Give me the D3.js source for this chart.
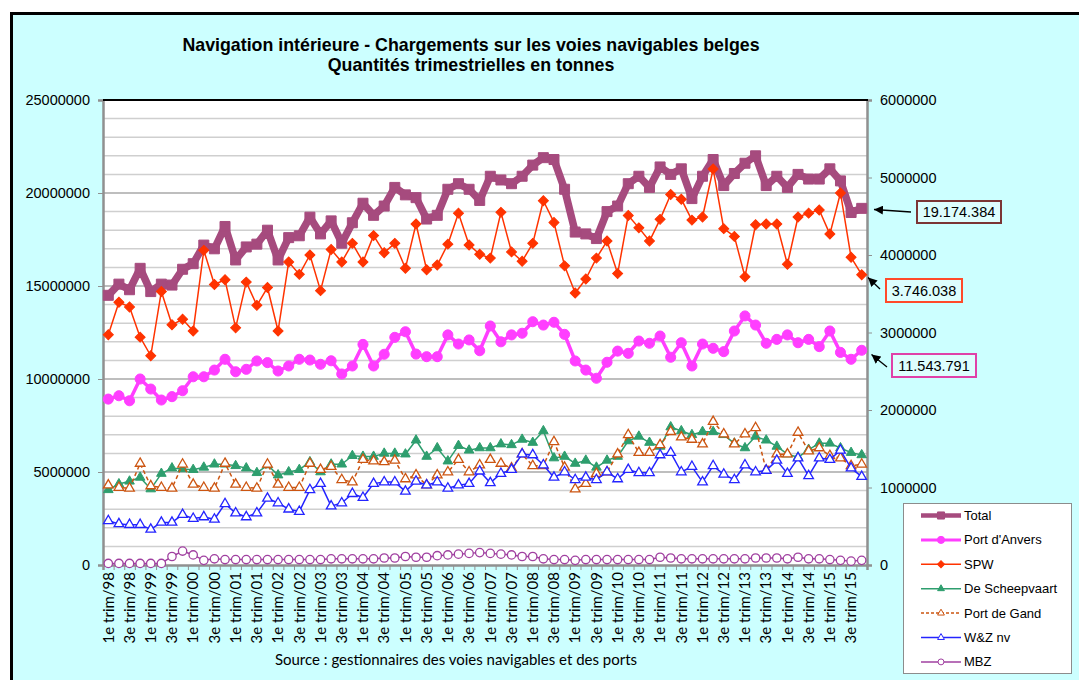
<!DOCTYPE html>
<html>
<head>
<meta charset="utf-8">
<script src="https://cdn.jsdelivr.net/npm/d3@7/dist/d3.min.js"></script>
<style>
body { margin: 0; background: #fff; }
svg text { font-family: "Liberation Sans", Arial, sans-serif; }
</style>
</head>
<body>
<div class="holder"></div>
<script>
// quarters 1998 - 2015
var years = ['98','99','00','01','02','03','04','05','06','07','08','09','10','11','12','13','14','15']
var quarters = ['1e','2e','3e','4e']

// values in millions of tonnes
var total = [14.5, 15.1, 14.8, 15.95, 14.7, 15.1, 15.05, 15.9, 16.2, 17.2, 17.0, 18.2, 16.4, 17.1, 17.25, 18.0, 16.4, 17.6, 17.7, 18.7, 17.8, 18.5, 17.3, 18.4, 19.45, 18.8, 19.3, 20.3, 19.9, 19.75, 18.6, 18.8, 20.2, 20.5, 20.2, 19.6, 20.9, 20.7, 20.5, 20.9, 21.5, 21.9, 21.8, 20.2, 17.9, 17.8, 17.55, 19.0, 19.3, 20.5, 20.9, 20.3, 21.4, 21.0, 21.3, 19.7, 20.9, 21.8, 20.4, 21.05, 21.6, 22.0, 20.4, 20.9, 20.3, 21.0, 20.75, 20.75, 21.3, 20.65, 18.95, 19.174]
var anvers = [8.92, 9.10, 8.83, 10.0, 9.46, 8.87, 9.05, 9.37, 10.12, 10.12, 10.48, 11.06, 10.39, 10.52, 10.97, 10.88, 10.43, 10.7, 11.06, 11.02, 10.79, 10.98, 10.27, 10.7, 11.86, 10.7, 11.33, 12.24, 12.54, 11.34, 11.2, 11.2, 12.37, 11.88, 12.1, 11.52, 12.85, 12.0, 12.37, 12.46, 13.08, 12.9, 13.05, 12.4, 10.97, 10.48, 10.04, 10.9, 11.5, 11.38, 12.04, 11.92, 12.31, 11.17, 11.95, 10.7, 11.88, 11.65, 11.47, 12.58, 13.39, 12.9, 11.92, 12.13, 12.37, 11.95, 12.13, 11.74, 12.58, 11.43, 11.06, 11.544]
var spw = [2.97, 3.39, 3.33, 2.94, 2.70, 3.53, 3.10, 3.17, 3.02, 4.06, 3.62, 3.68, 3.06, 3.65, 3.35, 3.58, 3.02, 3.91, 3.75, 4.0, 3.54, 4.07, 3.91, 4.15, 3.91, 4.25, 4.03, 4.15, 3.83, 4.40, 3.81, 3.87, 4.14, 4.54, 4.13, 4.01, 3.96, 4.55, 4.04, 3.92, 4.15, 4.70, 4.42, 3.86, 3.51, 3.69, 3.96, 4.18, 3.76, 4.51, 4.35, 4.18, 4.46, 4.78, 4.72, 4.45, 4.49, 5.11, 4.34, 4.24, 3.72, 4.39, 4.40, 4.40, 3.88, 4.49, 4.54, 4.58, 4.27, 4.80, 3.97, 3.746]
var scheepvaart = [0.97, 1.045, 1.08, 1.13, 0.98, 1.18, 1.25, 1.24, 1.23, 1.26, 1.30, 1.30, 1.28, 1.25, 1.19, 1.29, 1.16, 1.20, 1.23, 1.33, 1.20, 1.30, 1.30, 1.41, 1.40, 1.40, 1.44, 1.44, 1.43, 1.61, 1.40, 1.51, 1.34, 1.54, 1.48, 1.51, 1.51, 1.56, 1.55, 1.62, 1.58, 1.73, 1.38, 1.40, 1.31, 1.35, 1.26, 1.35, 1.40, 1.60, 1.66, 1.58, 1.53, 1.78, 1.73, 1.68, 1.72, 1.72, 1.68, 1.57, 1.51, 1.66, 1.61, 1.53, 1.43, 1.39, 1.49, 1.57, 1.57, 1.51, 1.45, 1.42]
var gand = [1.03, 1.00, 0.99, 1.31, 1.02, 1.00, 0.99, 1.30, 1.04, 1.00, 0.99, 1.31, 1.04, 1.00, 0.99, 1.30, 1.04, 1.00, 1.00, 1.31, 1.23, 1.27, 1.10, 1.07, 1.36, 1.34, 1.33, 1.35, 1.11, 1.16, 1.03, 1.16, 1.20, 1.36, 1.20, 1.29, 1.36, 1.31, 1.25, 1.43, 1.28, 1.28, 1.59, 1.26, 0.98, 1.05, 1.18, 1.20, 1.43, 1.68, 1.45, 1.45, 1.55, 1.72, 1.65, 1.62, 1.56, 1.85, 1.69, 1.56, 1.69, 1.77, 1.22, 1.43, 1.43, 1.71, 1.47, 1.51, 1.41, 1.38, 1.28, 1.30]
var wz = [0.57, 0.53, 0.52, 0.52, 0.46, 0.55, 0.55, 0.65, 0.60, 0.62, 0.59, 0.79, 0.67, 0.62, 0.67, 0.86, 0.80, 0.72, 0.69, 0.97, 1.05, 0.76, 0.80, 0.92, 0.87, 1.05, 1.07, 1.07, 0.95, 1.08, 1.03, 1.07, 0.99, 1.03, 1.05, 1.21, 1.06, 1.18, 1.23, 1.43, 1.42, 1.29, 1.13, 1.20, 1.10, 1.13, 1.10, 1.20, 1.11, 1.23, 1.19, 1.19, 1.42, 1.45, 1.20, 1.27, 1.07, 1.28, 1.17, 1.10, 1.29, 1.20, 1.22, 1.35, 1.18, 1.38, 1.15, 1.38, 1.36, 1.48, 1.25, 1.14]
var mbz = [0.02, 0.02, 0.02, 0.02, 0.02, 0.02, 0.11, 0.18, 0.13, 0.06, 0.08, 0.07, 0.07, 0.07, 0.07, 0.07, 0.07, 0.07, 0.07, 0.07, 0.07, 0.08, 0.08, 0.08, 0.08, 0.08, 0.09, 0.09, 0.11, 0.10, 0.10, 0.12, 0.13, 0.14, 0.15, 0.16, 0.15, 0.14, 0.13, 0.11, 0.11, 0.08, 0.07, 0.07, 0.06, 0.07, 0.07, 0.07, 0.07, 0.07, 0.07, 0.07, 0.10, 0.09, 0.08, 0.08, 0.08, 0.08, 0.08, 0.08, 0.08, 0.09, 0.09, 0.09, 0.08, 0.10, 0.08, 0.08, 0.07, 0.06, 0.05, 0.06]

var leftTicks = [0, 5000000, 10000000, 15000000, 20000000, 25000000]
var rightTicks = [0, 1000000, 2000000, 3000000, 4000000, 5000000, 6000000]
var lastLabels = ['19.174.384', '3.746.038', '11.543.791']

var width = 1079, height = 680
var pLeft = 103, pRight = 867, pTop = 100, pBottom = 565
var M = 1000000

var cats = []
years.forEach(function(y) {
  quarters.forEach(function(q) { cats.push(q + ' trim/' + y) })
})

var series = [
  { name: 'Total', values: total, axis: 'L', color: '#A64B7E', lw: 7.5, sym: d3.symbolSquare, size: 100, fill: true },
  { name: "Port d'Anvers", values: anvers, axis: 'L', color: '#FF3EFF', lw: 3.5, sym: d3.symbolCircle, size: 80, fill: true },
  { name: 'SPW', values: spw, axis: 'R', color: '#FF3300', lw: 1.5, sym: d3.symbolSquare, size: 50, fill: true, rot: 45 },
  { name: 'De Scheepvaart', values: scheepvaart, axis: 'R', color: '#2E9E6E', lw: 1.5, sym: d3.symbolTriangle, size: 40, fill: true },
  { name: 'Port de Gand', values: gand, axis: 'R', color: '#CC5511', lw: 1.5, sym: d3.symbolTriangle, size: 40, fill: false, dash: '4,3' },
  { name: 'W&Z nv', values: wz, axis: 'R', color: '#2424FF', lw: 1.5, sym: d3.symbolTriangle, size: 40, fill: false },
  { name: 'MBZ', values: mbz, axis: 'R', color: '#A040A0', lw: 1.5, sym: d3.symbolCircle, size: 55, fill: false }
]

var svg = d3.select('.holder').append('svg')
  .attr('width', width)
  .attr('height', height)

svg.append('rect')
  .attr('x', 11.5).attr('y', 13.5)
  .attr('width', 1100).attr('height', 700)
  .attr('fill', '#CCFFFF')
  .attr('stroke', '#000')
  .attr('stroke-width', 3)

svg.append('rect')
  .attr('x', pLeft).attr('y', pTop)
  .attr('width', pRight - pLeft).attr('height', pBottom - pTop)
  .attr('fill', '#fff')

// title
svg.append('text').attr('x', 471).attr('y', 51)
  .attr('text-anchor', 'middle').style('font-size', '17.8px').style('font-weight', 'bold')
  .text('Navigation intérieure - Chargements sur les voies navigables belges')
svg.append('text').attr('x', 471).attr('y', 71)
  .attr('text-anchor', 'middle').style('font-size', '17.8px').style('font-weight', 'bold')
  .text('Quantités trimestrielles en tonnes')

var x = d3.scaleBand().domain(cats).range([pLeft, pRight]).padding(0)
var xi = d3.scaleLinear().domain([0, cats.length]).range([pLeft, pRight])
var yL = d3.scaleLinear().domain([0, 25000000]).range([pBottom, pTop])
var yR = d3.scaleLinear().domain([0, 6000000]).range([pBottom, pTop])

function cx(i) { return x(cats[i]) + x.bandwidth() / 2 }

// gridlines every million on the left axis
var grid = svg.append('g')
d3.range(1000000, 25000001, 1000000).forEach(function(v) {
  grid.append('line')
    .attr('x1', pLeft).attr('x2', pRight)
    .attr('y1', yL(v)).attr('y2', yL(v))
    .attr('stroke', v % 5000000 === 0 ? '#a8a8a8' : '#cfcfcf')
    .attr('stroke-width', 1.5)
})

// axes
var yAxisL = svg.append('g')
  .attr('transform', 'translate(' + pLeft + ',0)')
  .call(d3.axisLeft(yL).tickValues(leftTicks).tickSize(5).tickPadding(8).tickFormat(d3.format('d')))
var yAxisR = svg.append('g')
  .attr('transform', 'translate(' + pRight + ',0)')
  .call(d3.axisRight(yR).tickValues(rightTicks).tickSize(5).tickPadding(8).tickFormat(d3.format('d')))
var xTicks = svg.append('g')
  .attr('transform', 'translate(0,' + pBottom + ')')
  .call(d3.axisBottom(xi).tickValues(d3.range(cats.length + 1)).tickSize(5).tickFormat(''))

;[yAxisL, yAxisR, xTicks].forEach(function(g) {
  g.select('.domain').attr('stroke', '#909090').attr('stroke-width', 2.5)
  g.selectAll('.tick line').attr('stroke', '#909090')
  g.selectAll('.tick text').style('font-size', '14.5px').attr('fill', '#000')
})

// top border of plot
svg.append('line')
  .attr('x1', pLeft).attr('x2', pRight + 1)
  .attr('y1', pTop).attr('y2', pTop)
  .attr('stroke', '#000').attr('stroke-width', 2)

// category labels
svg.append('g').selectAll('text')
  .data(cats.filter(function(c, i) { return i % 2 === 0 }))
  .enter().append('text')
  .attr('transform', function(d) { return 'translate(' + (x(d) + x.bandwidth() / 2) + ',572) rotate(-90)' })
  .attr('dy', '0.35em')
  .attr('text-anchor', 'end')
  .style('font-family', 'Lato, "Open Sans", sans-serif')
  .style('font-size', '15px')
  .text(function(d) { return d })

// series
var plot = svg.append('g')
series.forEach(function(s) {
  var yS = s.axis === 'L' ? yL : yR
  var line = d3.line()
    .x(function(d, i) { return cx(i) })
    .y(function(d) { return yS(d * M) })
  plot.append('path')
    .datum(s.values)
    .attr('d', line)
    .attr('fill', 'none')
    .attr('stroke', s.color)
    .attr('stroke-width', s.lw)
    .attr('stroke-linejoin', 'round')
    .attr('stroke-dasharray', s.dash || null)
  plot.append('g').selectAll('path')
    .data(s.values)
    .enter().append('path')
    .attr('d', d3.symbol().type(s.sym).size(s.size))
    .attr('transform', function(d, i) {
      return 'translate(' + cx(i) + ',' + yS(d * M) + ')' + (s.rot ? ' rotate(' + s.rot + ')' : '')
    })
    .attr('fill', s.fill ? s.color : '#fff')
    .attr('stroke', s.color)
    .attr('stroke-width', s.fill ? 1 : 1.3)
})

// value call-outs on the last quarter
svg.append('defs').append('marker')
  .attr('id', 'arrow')
  .attr('viewBox', '0 0 10 10')
  .attr('refX', 10).attr('refY', 5)
  .attr('markerWidth', 9).attr('markerHeight', 9)
  .attr('markerUnits', 'userSpaceOnUse')
  .attr('orient', 'auto')
  .append('path').attr('d', 'M0,0 L10,5 L0,10 z').attr('fill', '#000')

var callouts = [
  { text: lastLabels[0], box: [917, 201, 84, 22], color: '#7B3535', from: [911, 212], to: [874, 209.5] },
  { text: lastLabels[1], box: [886, 279, 76, 23], color: '#FF4A2A', from: [880, 289], to: [868, 277.5] },
  { text: lastLabels[2], box: [892, 354, 84, 23], color: '#E040A8', from: [887, 367], to: [871.5, 354.5] }
]
callouts.forEach(function(c) {
  svg.append('rect')
    .attr('x', c.box[0]).attr('y', c.box[1])
    .attr('width', c.box[2]).attr('height', c.box[3])
    .attr('fill', '#DDFDFD')
    .attr('stroke', c.color).attr('stroke-width', 2)
  svg.append('text')
    .attr('x', c.box[0] + c.box[2] / 2).attr('y', c.box[1] + c.box[3] / 2 + 5)
    .attr('text-anchor', 'middle').style('font-size', '14.5px')
    .text(c.text)
  svg.append('line')
    .attr('x1', c.from[0]).attr('y1', c.from[1])
    .attr('x2', c.to[0]).attr('y2', c.to[1])
    .attr('stroke', '#000').attr('stroke-width', 1.3)
    .attr('marker-end', 'url(#arrow)')
})

// legend
var legend = svg.append('g')
legend.append('rect')
  .attr('x', 903.5).attr('y', 503.5)
  .attr('width', 168).attr('height', 170)
  .attr('fill', '#fff').attr('stroke', '#8c8c8c')
series.forEach(function(s, i) {
  var ly = 515.5 + i * 24.4
  legend.append('line')
    .attr('x1', 921).attr('x2', 961)
    .attr('y1', ly).attr('y2', ly)
    .attr('stroke', s.color)
    .attr('stroke-width', s.lw > 5 ? 4.5 : (s.lw > 3 ? 3 : 1.5))
    .attr('stroke-dasharray', s.dash ? '3,2' : null)
  legend.append('path')
    .attr('d', d3.symbol().type(s.sym).size(s.size * 0.5))
    .attr('transform', 'translate(941,' + ly + ')' + (s.rot ? ' rotate(' + s.rot + ')' : ''))
    .attr('fill', s.fill ? s.color : '#fff')
    .attr('stroke', s.color)
  legend.append('text')
    .attr('x', 964).attr('y', ly + 4.5)
    .style('font-size', '13px')
    .text(s.name)
})

// source
svg.append('text')
  .attr('x', 456).attr('y', 665)
  .attr('text-anchor', 'middle')
  .style('font-family', 'Lato, "Open Sans", sans-serif')
  .style('font-size', '15px')
  .text('Source : gestionnaires des voies navigables et des ports')
</script>
</body>
</html>
